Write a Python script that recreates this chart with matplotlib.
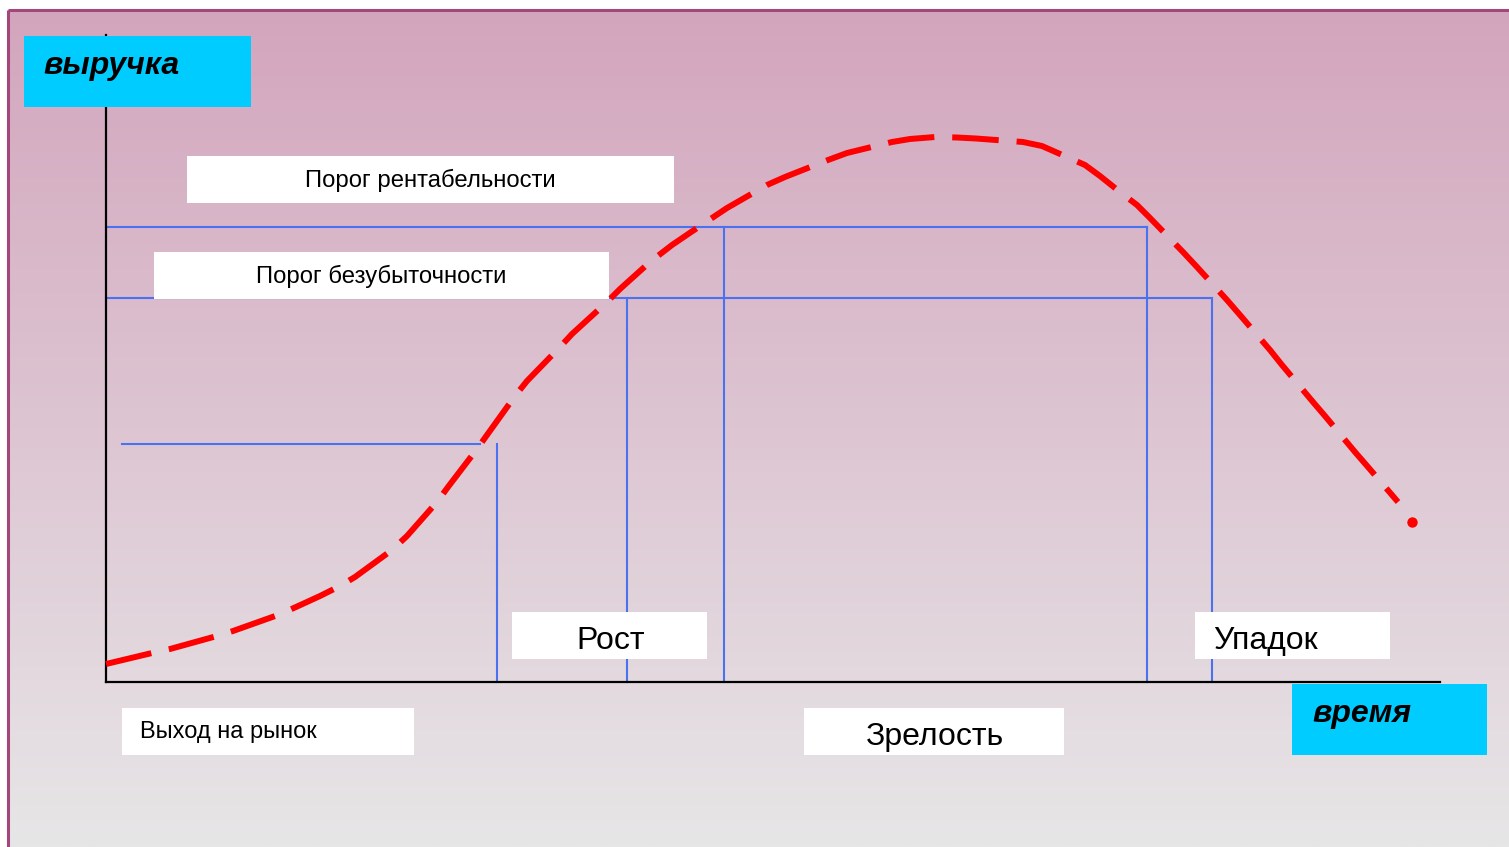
import numpy as np
import matplotlib
matplotlib.use("Agg")
import matplotlib.pyplot as plt
from matplotlib.patches import Rectangle

plt.rcParams['font.family'] = ['Liberation Sans', 'DejaVu Sans']

# Revenue curve (time, revenue) in the slide's coordinate frame
curve_x = [106, 152, 170, 217, 233, 278, 296, 320, 340, 355, 392, 407, 437, 448, 477, 487,
           515, 527, 560, 572, 607, 620, 650, 672, 700, 727, 767, 785, 828, 847, 892, 910,
           935, 957, 976, 1023, 1042, 1085, 1100, 1120, 1137, 1150, 1183, 1197, 1227, 1240,
           1270, 1282, 1313, 1325, 1355, 1368, 1398, 1412]
curve_y = [664, 653, 649, 636, 631, 615, 607, 596, 586, 577, 550, 536, 502, 487, 449, 435,
           396, 381, 347, 334, 302, 289, 262, 245, 226, 208, 185, 177, 160, 153, 142, 139,
           137, 137.5, 138.5, 142, 146, 165, 176, 192, 205, 218, 252, 267, 300, 315,
           350, 365, 402, 416, 452, 467, 502, 522]

# thresholds
profit_y = 227        # Порог рентабельности
breakeven_y = 298     # Порог безубыточности
entry_y = 444         # Выход на рынок level
stage_x = [497, 627, 724, 1147, 1212]

labels = {
    "revenue": "выручка",
    "time": "время",
    "profit": "Порог рентабельности",
    "breakeven": "Порог безубыточности",
    "growth": "Рост",
    "decline": "Упадок",
    "entry": "Выход на рынок",
    "maturity": "Зрелость",
}

W, H = 1509, 847
fig = plt.figure(figsize=(W / 100, H / 100), dpi=100)
ax = fig.add_axes([0, 0, 1, 1])
ax.set_xlim(0, W)
ax.set_ylim(H, 0)
ax.axis('off')
fig.patch.set_facecolor('white')

# gradient background
top = np.array([211, 165, 189]) / 255
bot = np.array([231, 230, 231]) / 255
t = np.linspace(0, 1, 256)[:, None]
grad = (top[None, :] * (1 - t) + bot[None, :] * t)[:, None, :]
ax.imshow(grad, extent=(8, W, H, 10), aspect='auto', interpolation='bilinear', zorder=0)

# slide border
border = '#a3467a'
ax.plot([8, W], [10, 10], color=border, lw=2.2, zorder=1, solid_capstyle='butt')
ax.plot([8, 8], [10, H], color=border, lw=2.2, zorder=1, solid_capstyle='butt')

# axes
ax.plot([106, 106], [35, 682], color='black', lw=1.6, zorder=3)
ax.plot([106, 1440], [682, 682], color='black', lw=1.6, zorder=3)

blue = '#4a72f0'
lwb = 1.5
ax.plot([106, 1147], [profit_y, profit_y], color=blue, lw=lwb, zorder=2)
ax.plot([106, 1212], [breakeven_y, breakeven_y], color=blue, lw=lwb, zorder=2)
ax.plot([122, 480], [entry_y, entry_y], color=blue, lw=lwb, zorder=2)
ax.plot([stage_x[0]] * 2, [entry_y, 682], color=blue, lw=lwb, zorder=2)
ax.plot([stage_x[1]] * 2, [breakeven_y, 682], color=blue, lw=lwb, zorder=2)
ax.plot([stage_x[2]] * 2, [profit_y, 682], color=blue, lw=lwb, zorder=2)
ax.plot([stage_x[3]] * 2, [profit_y, 682], color=blue, lw=lwb, zorder=2)
ax.plot([stage_x[4]] * 2, [breakeven_y, 682], color=blue, lw=lwb, zorder=2)


def box(x0, y0, x1, y1, color, zorder=4):
    ax.add_patch(Rectangle((x0, y0), x1 - x0, y1 - y0, facecolor=color,
                           edgecolor='none', zorder=zorder))


# white label boxes (drawn below curve)
box(187, 156, 674, 203, 'white')
box(154, 252, 609, 299, 'white')
box(512, 612, 707, 659, 'white')
box(1195, 612, 1390, 659, 'white')
box(122, 708, 414, 755, 'white')
box(804, 708, 1064, 755, 'white')
box(24, 36, 251, 107, '#00ccff', zorder=6)
box(1292, 684, 1487, 755, '#00ccff', zorder=6)

# curve
ax.plot(curve_x[:-1], curve_y[:-1], color='#ff0000', lw=4.3, dashes=(7.8, 3.0),
        dash_capstyle='butt', solid_joinstyle='round', dash_joinstyle='round', zorder=5)
ax.plot(curve_x[-1], curve_y[-1], 'o', color='#ff0000', ms=7.5, mec='none', zorder=5)

ax.text(43, 66, labels["revenue"], fontsize=23, fontweight='bold', fontstyle='italic',
        va='center', ha='left', zorder=7)
ax.text(1312, 714, labels["time"], fontsize=23, fontweight='bold', fontstyle='italic',
        va='center', ha='left', zorder=7)
ax.text(430, 180, labels["profit"], fontsize=17.2, va='center', ha='center', zorder=7)
ax.text(381, 276, labels["breakeven"], fontsize=17.2, va='center', ha='center', zorder=7)
ax.text(576, 641, labels["growth"], fontsize=23, va='center', ha='left', zorder=7)
ax.text(1213, 641, labels["decline"], fontsize=23, va='center', ha='left', zorder=7)
ax.text(140, 732, labels["entry"], fontsize=17, va='center', ha='left', zorder=7)
ax.text(866, 737, labels["maturity"], fontsize=23, va='center', ha='left', zorder=7)

fig.savefig('out.png', dpi=100)
